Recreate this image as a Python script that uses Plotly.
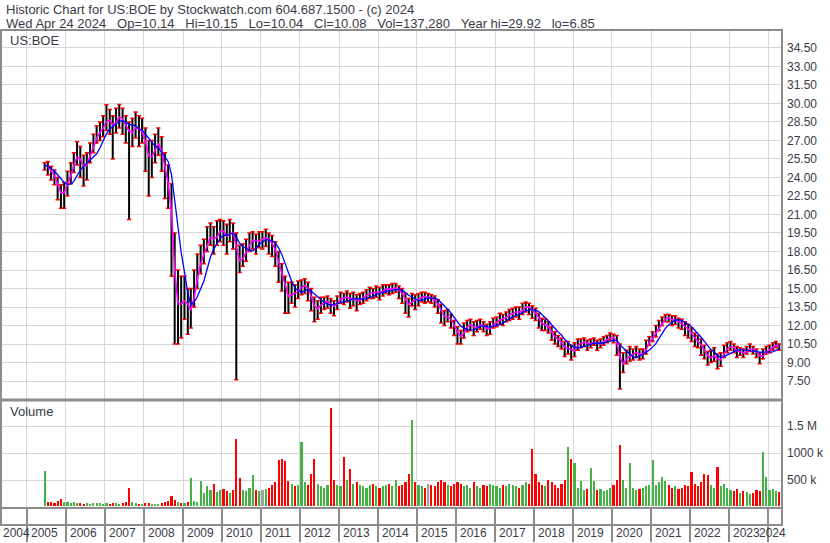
import plotly.graph_objects as go
import pandas as pd

# ---------------- data (monthly, Jun 2005 .. Apr 2024) ----------------
first_month = "2005-06-01"

close = [
    25.0, 24.8, 24.3, 24.0, 23.0, 22.5, 23.0,
    23.8, 24.5, 25.3, 26.0, 25.0, 24.8, 25.2, 26.2, 26.8, 27.5, 27.8, 28.2,
    28.8, 28.5, 28.0, 28.8, 29.0, 28.5, 28.0, 27.5, 27.8, 28.3, 27.6, 27.8,
    26.0, 25.5, 25.8, 26.5, 27.0, 25.5, 24.0, 23.0, 19.5, 13.5, 14.0, 13.5,
    14.5, 13.0, 13.5, 15.0, 16.5, 17.5, 18.0, 19.0, 19.3, 18.8, 19.5, 19.8,
    19.5, 19.0, 19.8, 19.3, 17.5, 17.0, 17.8, 18.2, 18.8, 19.0, 18.7, 19.0,
    19.0, 19.2, 18.8, 18.5, 17.8, 16.5, 15.8, 14.5, 14.2, 14.8, 14.5, 15.0,
    15.2, 15.3, 14.8, 14.0, 13.2, 13.5, 13.8, 13.9, 14.0, 13.6, 13.5, 14.0,
    14.3, 14.2, 14.4, 14.0, 14.3, 13.8, 14.2, 14.3, 14.5, 14.7, 14.6, 14.8,
    14.6, 14.9, 15.0, 14.9, 15.0, 15.1, 14.7, 14.5, 13.8, 13.6, 14.2, 14.0,
    14.2, 14.4, 14.3, 14.3, 14.2, 13.9, 13.6, 12.9, 12.6, 12.8, 12.3, 11.8,
    11.2, 11.0, 11.8, 12.0, 12.1, 11.7, 12.0, 12.1, 11.9, 11.6, 11.9, 12.2,
    12.3, 12.6, 12.5, 12.8, 12.9, 13.0, 13.2, 13.0, 13.4, 13.6, 13.4, 13.1,
    12.9, 12.4, 12.0, 12.1, 11.8, 11.2, 11.0, 10.8, 10.5, 10.0, 10.3, 9.7,
    10.2, 10.5, 10.6, 10.7, 10.4, 10.6, 10.7, 10.4, 10.6, 10.8, 10.9, 11.1,
    11.0, 10.4, 8.5, 9.2, 9.4, 9.6, 9.7, 9.9, 9.6, 9.7, 10.4, 10.8,
    11.1, 11.6, 12.0, 12.4, 12.7, 12.6, 12.4, 12.5, 12.2, 12.1, 11.8, 11.6,
    11.2, 10.8, 10.7, 10.2, 9.8, 9.3, 9.5, 9.6, 9.0, 9.4, 10.0, 10.2,
    10.4, 10.1, 9.8, 9.9, 9.7, 10.0, 10.2, 10.0, 9.8, 9.3, 9.7, 10.0,
    10.1, 10.3, 10.5, 10.08,
]

high = [
    25.2, 25.3, 24.9, 24.6, 24.0, 23.4, 23.6,
    24.5, 25.2, 26.0, 26.9, 26.5, 25.8, 26.0, 26.8, 27.5, 28.2, 28.5, 29.0,
    29.9, 29.5, 29.0, 29.6, 29.92, 29.6, 29.0, 28.5, 28.8, 29.3, 29.0, 28.8,
    28.0, 27.0, 27.0, 27.5, 28.0, 27.3, 26.0, 25.0, 23.5, 19.5, 16.5, 16.0,
    16.0, 15.0, 15.0, 16.5, 17.8, 18.5, 19.0, 20.0, 20.3, 20.0, 20.5, 20.6,
    20.5, 20.2, 20.6, 20.3, 19.5, 18.5, 18.6, 19.0, 19.5, 19.6, 19.4, 19.6,
    19.6, 19.8, 19.5, 19.3, 18.8, 18.0, 17.0, 16.0, 15.5, 15.5, 15.3, 15.6,
    15.7, 15.8, 15.5, 15.0, 14.3, 14.0, 14.3, 14.3, 14.4, 14.2, 14.0, 14.4,
    14.7, 14.6, 14.8, 14.6, 14.7, 14.5, 14.6, 14.7, 14.9, 15.1, 15.0, 15.2,
    15.1, 15.3, 15.3, 15.3, 15.4, 15.4, 15.2, 15.0, 14.6, 14.2, 14.6, 14.5,
    14.6, 14.7, 14.7, 14.6, 14.5, 14.4, 14.1, 13.7, 13.2, 13.3, 12.9, 12.4,
    11.9, 11.6, 12.2, 12.4, 12.5, 12.3, 12.4, 12.5, 12.3, 12.1, 12.3, 12.6,
    12.7, 13.0, 12.9, 13.1, 13.3, 13.4, 13.5, 13.5, 13.8, 13.9, 13.8, 13.6,
    13.4, 13.0, 12.6, 12.5, 12.3, 11.9, 11.5, 11.2, 11.0, 10.7, 10.7, 10.4,
    10.6, 10.9, 10.9, 11.0, 10.8, 10.9, 11.0, 10.8, 10.9, 11.1, 11.2, 11.4,
    11.3, 11.2, 10.5, 9.8, 10.0, 10.3, 10.1, 10.3, 10.1, 10.1, 10.8, 11.1,
    11.5, 12.0, 12.4, 12.7, 12.9, 12.9, 12.8, 12.8, 12.6, 12.5, 12.3, 12.1,
    11.8, 11.4, 11.2, 10.9, 10.4, 9.9, 10.0, 10.2, 9.7, 9.8, 10.4, 10.6,
    10.7, 10.5, 10.3, 10.2, 10.1, 10.3, 10.5, 10.3, 10.1, 9.8, 10.1, 10.3,
    10.4, 10.6, 10.7, 10.5,
]

low = [
    24.6, 24.2, 23.8, 23.4, 22.2, 21.5, 21.5,
    22.5, 23.5, 24.4, 25.0, 24.0, 23.3, 23.8, 25.2, 26.0, 26.8, 27.0, 27.3,
    27.8, 27.5, 25.5, 27.6, 28.0, 27.5, 26.8, 20.6, 26.5, 27.2, 26.5, 26.8,
    24.5, 22.5, 24.0, 25.2, 25.8, 24.5, 22.3, 21.5, 16.0, 10.5, 10.5, 11.0,
    12.5, 11.3, 11.8, 13.5, 15.0, 16.2, 17.0, 18.0, 18.5, 17.8, 18.5, 18.8,
    18.5, 17.8, 18.8, 18.2, 7.6, 16.3, 16.8, 17.2, 18.0, 18.2, 17.8, 18.3,
    18.2, 18.4, 17.8, 17.6, 16.8, 15.5, 14.8, 13.0, 13.0, 13.8, 13.5, 14.2,
    14.5, 14.6, 14.0, 13.2, 12.3, 12.5, 13.0, 13.3, 13.4, 13.0, 12.8, 13.3,
    13.8, 13.7, 13.9, 13.4, 13.6, 13.2, 13.7, 13.8, 14.0, 14.2, 14.2, 14.3,
    14.1, 14.4, 14.6, 14.5, 14.6, 14.7, 14.2, 13.8, 13.0, 12.7, 13.6, 13.3,
    13.6, 13.9, 13.8, 13.9, 13.8, 13.5, 13.0, 12.2, 12.0, 12.3, 11.8, 11.2,
    10.5, 10.5, 11.0, 11.5, 11.6, 11.2, 11.5, 11.7, 11.5, 11.2, 11.3, 11.8,
    11.9, 12.1, 12.0, 12.3, 12.4, 12.5, 12.7, 12.5, 12.9, 13.1, 12.9, 12.6,
    12.4, 11.8, 11.6, 11.6, 11.4, 10.8, 10.5, 10.3, 10.1, 9.5, 9.7, 9.2,
    9.5, 10.0, 10.2, 10.3, 10.0, 10.2, 10.4, 10.0, 10.2, 10.4, 10.6, 10.8,
    10.6, 9.6, 6.85, 8.2, 8.9, 9.1, 9.2, 9.4, 9.2, 9.3, 9.7, 10.4,
    10.7, 11.1, 11.6, 12.0, 12.3, 12.3, 12.0, 12.1, 11.8, 11.7, 11.2, 11.0,
    10.7, 10.3, 10.2, 9.6, 9.3, 8.8, 9.0, 9.1, 8.5, 8.7, 9.4, 9.8,
    10.0, 9.8, 9.4, 9.6, 9.4, 9.7, 9.9, 9.7, 9.4, 8.9, 9.3, 9.7,
    9.8, 10.0, 10.2, 10.0,
]

volume_k = [
    660, 90, 80, 60, 110, 130, 90,
    80, 60, 90, 70, 60, 50, 60, 50, 60, 70, 60, 50,
    60, 50, 70, 60, 50, 60, 80, 340, 90, 60, 50, 50,
    60, 60, 50, 40, 50, 60, 80, 110, 200, 120, 90, 70,
    60, 80, 530, 100, 90, 470, 250, 380, 300, 420, 270, 300,
    320, 280, 250, 300, 1260, 530, 300, 280, 350, 580, 300, 280,
    300, 320, 350, 400, 450, 870, 890, 850, 480, 420, 380, 400,
    1200, 450, 400, 600, 880, 420, 380, 350, 400, 1830, 500, 400,
    380, 920, 500, 700, 420, 450, 400, 380, 350, 400, 420, 380,
    350, 380, 400, 420, 380, 500, 380, 400, 450, 600, 1600, 450,
    400, 380, 350, 420, 400, 380, 450, 500, 450, 400, 380, 420,
    450, 420, 380, 400, 350, 450, 380, 350, 400, 380, 420, 400,
    380, 350, 400, 380, 420, 400, 380, 350, 400, 450, 420, 1070,
    600, 450, 400, 380, 500, 450, 400, 350, 420, 500, 1100, 880,
    800, 350, 470, 300, 320, 720, 480, 300, 320, 280, 300, 350,
    400, 500, 1150, 500, 350, 800, 350, 300, 320, 350, 380, 400,
    870, 400, 450, 550, 480, 400, 350, 380, 320, 350, 400, 380,
    650, 420, 380, 450, 600, 580, 400, 350, 740, 380, 420, 350,
    300, 280, 320, 250, 280, 260, 240, 250, 300, 280, 1020, 550,
    300, 320, 280, 260,
]

year_labels = [str(y) for y in range(2004, 2025)]
price_ticks_start, price_tick_step = 7.5, 1.5
volume_tickvals = [500000, 1000000, 1500000]
volume_ticktext = ["500 k", "1000 k", "1.5 M"]

header_1 = "Historic Chart for US:BOE by Stockwatch.com 604.687.1500 - (c) 2024"
S = "\u00a0\u00a0\u00a0"
header_2 = ("Wed Apr 24 2024" + S + "Op=10.14" + S + "Hi=10.15" + S + "Lo=10.04" + S +
            "Cl=10.08" + S + "Vol=137,280" + S + "Year hi=29.92" + S + "lo=6.85")

# ---------------- derived ----------------
n = len(close)
dates = pd.date_range(first_month, periods=n, freq="MS") + pd.Timedelta(days=14)
opens = [close[0]] + close[:-1]
cs = pd.Series(close)
ma_fast = cs.rolling(2, min_periods=1).mean()
ma_slow = cs.rolling(6, min_periods=1).mean()
volume = [v * 1000 for v in volume_k]
vcolors = []
for i in range(n):
    if i == 0 or close[i] > close[i - 1]:
        vcolors.append("#44b244")
    elif close[i] < close[i - 1]:
        vcolors.append("#ff0000")
    else:
        vcolors.append("#a0a0a0")

FONT = "Liberation Sans, Arial, sans-serif"
GRID = "#d6d6d6"
BORDER = "#8c8c8c"
TXT = "#3a3a48"

# plot area: x 2..782, y 30..510 (pixels)
def px_x(p):
    return (p - 2) / 780.0

def px_y(p):
    return (510 - p) / 480.0

fig = go.Figure()
fig.add_trace(go.Ohlc(
    x=dates, open=opens, high=high, low=low, close=close,
    increasing=dict(line=dict(color="#000000", width=2)),
    decreasing=dict(line=dict(color="#000000", width=2)),
    tickwidth=0.2, hoverinfo="skip", xaxis="x", yaxis="y",
))
# red speckles at the bar extremes
fig.add_trace(go.Scatter(x=list(dates) + list(dates), y=high + low, mode="markers",
                         marker=dict(symbol="line-ew", size=3, color="#ff0000",
                                     line=dict(color="#ff0000", width=1.5)),
                         hoverinfo="skip", xaxis="x", yaxis="y"))
fig.add_trace(go.Scatter(x=dates, y=ma_fast, mode="lines",
                         line=dict(color="#ff00ff", width=1.6),
                         hoverinfo="skip", xaxis="x", yaxis="y"))
fig.add_trace(go.Scatter(x=dates, y=ma_slow, mode="lines",
                         line=dict(color="#0000ff", width=1.3),
                         hoverinfo="skip", xaxis="x", yaxis="y"))
fig.add_trace(go.Bar(x=dates, y=volume, marker=dict(color=vcolors, line=dict(width=0)),
                     width=20 * 86400000, hoverinfo="skip", xaxis="x", yaxis="y2"))

shapes = []
def line(x0, y0, x1, y1, w=2, c=BORDER):
    shapes.append(dict(type="line", xref="paper", yref="paper", x0=x0, y0=y0, x1=x1, y1=y1,
                       line=dict(color=c, width=w), layer="above"))

line(px_x(0), px_y(30), px_x(783), px_y(30))          # top
line(px_x(1), px_y(29), px_x(1), px_y(527))           # left
line(px_x(782), px_y(29), px_x(782), px_y(527))       # right
line(px_x(0), px_y(401.5), px_x(783), px_y(401.5), w=3)  # panel divider
line(px_x(0), px_y(510), px_x(783), px_y(510))        # bottom of volume
line(px_x(0), px_y(527), px_x(783), px_y(527))        # strip line

annotations = [
    dict(text=header_1, xref="paper", yref="paper", x=px_x(4), y=px_y(9),
         xanchor="left", yanchor="middle", showarrow=False, font=dict(size=13, color=TXT, family=FONT)),
    dict(text=header_2, xref="paper", yref="paper", x=px_x(4), y=px_y(23),
         xanchor="left", yanchor="middle", showarrow=False, font=dict(size=13, color=TXT, family=FONT)),
    dict(text="US:BOE", xref="paper", yref="paper", x=px_x(8), y=px_y(41),
         xanchor="left", yanchor="middle", showarrow=False, font=dict(size=13, color=TXT, family=FONT)),
    dict(text="Volume", xref="paper", yref="paper", x=px_x(8), y=px_y(413),
         xanchor="left", yanchor="middle", showarrow=False, font=dict(size=13, color=TXT, family=FONT)),
]
for lab in year_labels:
    y = int(lab)
    if y == 2004:
        annotations.append(dict(text=lab, xref="paper", yref="paper", x=px_x(1), y=px_y(535),
                                xanchor="left", yanchor="middle", showarrow=False,
                                font=dict(size=12, color=TXT, family=FONT)))
    elif y == 2024:
        annotations.append(dict(text=lab, xref="paper", yref="paper", x=px_x(788), y=px_y(535),
                                xanchor="right", yanchor="middle", showarrow=False,
                                font=dict(size=12, color=TXT, family=FONT)))
    else:
        annotations.append(dict(text=lab, xref="x", yref="paper", x=f"{y}-01-01", y=px_y(535),
                                xanchor="left", yanchor="middle", showarrow=False, xshift=2,
                                font=dict(size=12, color=TXT, family=FONT)))

fig.update_layout(
    width=830, height=543,
    margin=dict(l=2, r=48, t=30, b=33, pad=0),
    paper_bgcolor="white", plot_bgcolor="white",
    showlegend=False, bargap=0,
    font=dict(family=FONT, size=12, color=TXT),
    xaxis=dict(type="date", range=["2004-05-12", "2024-05-11"], anchor="y2",
               showgrid=True, gridcolor=GRID, gridwidth=1,
               tick0="2005-01-01", dtick="M12",
               ticks="outside", ticklen=33, tickwidth=2, tickcolor=BORDER,
               showticklabels=False, showline=False, zeroline=False,
               rangeslider=dict(visible=False), fixedrange=True),
    yaxis=dict(domain=[px_y(401), 1], side="right", anchor="x",
               range=[6.01, 35.95], tick0=price_ticks_start, dtick=price_tick_step,
               tickformat=".2f", showgrid=True, gridcolor=GRID, gridwidth=1,
               showline=False, zeroline=False, ticks="", ticklabelstandoff=4,
               tickfont=dict(size=12, color=TXT, family=FONT), fixedrange=True),
    yaxis2=dict(domain=[0, px_y(402)], side="right", anchor="x",
                range=[-20000, 1980000], tickvals=volume_tickvals, ticktext=volume_ticktext,
                showgrid=True, gridcolor=GRID, gridwidth=1,
                showline=False, zeroline=False, ticks="", ticklabelstandoff=4,
                tickfont=dict(size=12, color=TXT, family=FONT), fixedrange=True),
    shapes=shapes,
    annotations=annotations,
)

fig.write_html("out.html", config={"displayModeBar": False},
               post_script="document.body.style.margin='0';document.body.style.overflow='hidden';")
